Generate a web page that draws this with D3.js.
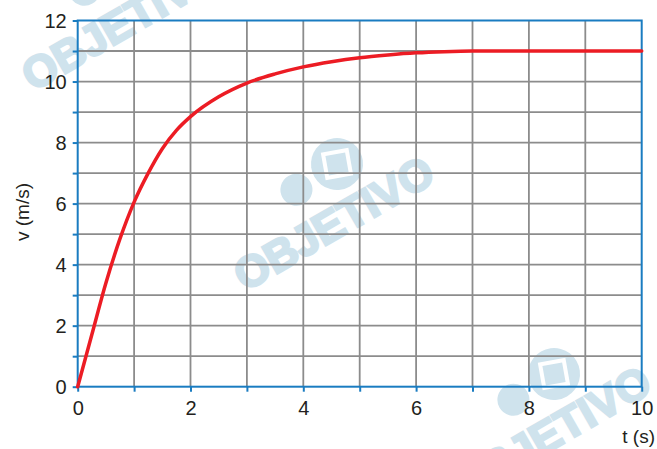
<!DOCTYPE html>
<html>
<head>
<meta charset="utf-8">
<script src="https://cdn.jsdelivr.net/npm/d3@7"></script>
<style>
  body { margin: 0; background: #fff; }
  text { font-family: "Liberation Sans", Arial, sans-serif; fill: #231f20; }
</style>
</head>
<body>
<script>
// Data: time (s) and speed (m/s)
var times  = [0, 0.25, 0.5, 0.75, 1, 1.25, 1.5, 1.75, 2, 2.5, 3, 3.5, 4, 4.5, 5, 5.5, 6, 6.5, 7, 8, 9, 10];
var speeds = [0, 1.7, 3.4, 4.85, 6.05, 7.0, 7.8, 8.4, 8.85, 9.5, 9.95, 10.25, 10.48, 10.65, 10.78, 10.87, 10.94, 10.98, 11, 11, 11, 11];
var xTicks = [0, 2, 4, 6, 8, 10];
var yTicks = [0, 2, 4, 6, 8, 10, 12];

var W = 657, H = 449;
var margin = {top: 20.5, left: 77.7, right: 15.3, bottom: 62.3};
var width = W - margin.left - margin.right,
    height = H - margin.top - margin.bottom;

var blue = "#1a7cc1", grid = "#8c8c8c", red = "#ec1c24", mark = "#cfe3ed";

var xScale = d3.scaleLinear().domain([0, 10]).range([0, width]);
var yScale = d3.scaleLinear().domain([0, 12]).range([height, 0]);

var svg = d3.select("body").append("svg")
    .attr("width", W)
    .attr("height", H);

//
// Watermarks (drawn first, under the grid)
//
function watermark(x, y) {
    var g = svg.append("g").attr("transform", "translate(" + x + "," + y + ") rotate(-30)");
    g.append("text")
        .attr("x", 0).attr("y", 0)
        .style("font-size", "44px")
        .style("font-weight", "bold")
        .style("fill", mark)
        .style("stroke", mark)
        .style("stroke-width", 2.5)
        .text("OBJETIVO");
    // logo
    var lg = svg.append("g").attr("transform", "translate(" + (x + 92) + "," + (y - 128) + ") rotate(-30)");
    lg.append("circle").attr("r", 26).attr("fill", mark);
    lg.append("rect").attr("x", -12).attr("y", -12).attr("width", 24).attr("height", 24)
        .attr("transform", "rotate(20)")
        .attr("fill", "none").attr("stroke", "#fff").attr("stroke-width", 4);
    lg.append("circle").attr("cx", -48).attr("cy", 2).attr("r", 16).attr("fill", mark);
}
watermark(33, 92);
watermark(245, 292);
watermark(462, 502);

var g = svg.append("g")
    .attr("transform", "translate(" + margin.left + "," + margin.top + ")");

// Grid
g.selectAll(".vgrid")
    .data(d3.range(1, 10))
    .enter().append("line")
    .attr("class", "vgrid")
    .attr("x1", function(d) { return xScale(d); })
    .attr("x2", function(d) { return xScale(d); })
    .attr("y1", 0).attr("y2", height)
    .attr("stroke", grid).attr("stroke-width", 1.8);
g.selectAll(".hgrid")
    .data(d3.range(1, 12))
    .enter().append("line")
    .attr("class", "hgrid")
    .attr("y1", function(d) { return yScale(d); })
    .attr("y2", function(d) { return yScale(d); })
    .attr("x1", 0).attr("x2", width)
    .attr("stroke", grid).attr("stroke-width", 1.8);

// Frame
g.append("rect")
    .attr("width", width).attr("height", height)
    .attr("fill", "none")
    .attr("stroke", blue).attr("stroke-width", 2);

// Axes
var xAxis = d3.axisBottom(xScale)
    .tickValues(d3.range(0, 11))
    .tickSize(5)
    .tickFormat(function(d) { return xTicks.indexOf(d) >= 0 ? d : ""; });
var yAxis = d3.axisLeft(yScale)
    .tickValues(d3.range(0, 13))
    .tickSize(5)
    .tickFormat(function(d) { return yTicks.indexOf(d) >= 0 ? d : ""; });

var gx = g.append("g")
    .attr("transform", "translate(0," + height + ")")
    .call(xAxis);
var gy = g.append("g").call(yAxis);

[gx, gy].forEach(function(a) {
    a.select(".domain").remove();
    a.selectAll(".tick line").attr("stroke", blue).attr("stroke-width", 2);
    a.selectAll(".tick text")
        .style("font-size", "20px")
        .style("font-family", "'Liberation Sans', Arial, sans-serif")
        .attr("fill", "#231f20");
});
gx.selectAll(".tick text").attr("y", 14).attr("dy", "0.71em");
gy.selectAll(".tick text").attr("x", -11).attr("dy", "0.36em");

// Curve
var line = d3.line()
    .x(function(d, i) { return xScale(times[i]); })
    .y(function(d) { return yScale(d); })
    .curve(d3.curveMonotoneX);
g.append("path")
    .datum(speeds)
    .attr("d", line)
    .attr("fill", "none")
    .attr("stroke", red)
    .attr("stroke-width", 3.5)
    .attr("stroke-linecap", "round");

// Axis titles
svg.append("text")
    .attr("transform", "translate(29,212) rotate(-90)")
    .attr("text-anchor", "middle")
    .style("font-size", "19px")
    .text("v (m/s)");
svg.append("text")
    .attr("x", 655).attr("y", 443)
    .attr("text-anchor", "end")
    .style("font-size", "19px")
    .text("t (s)");
</script>
</body>
</html>
